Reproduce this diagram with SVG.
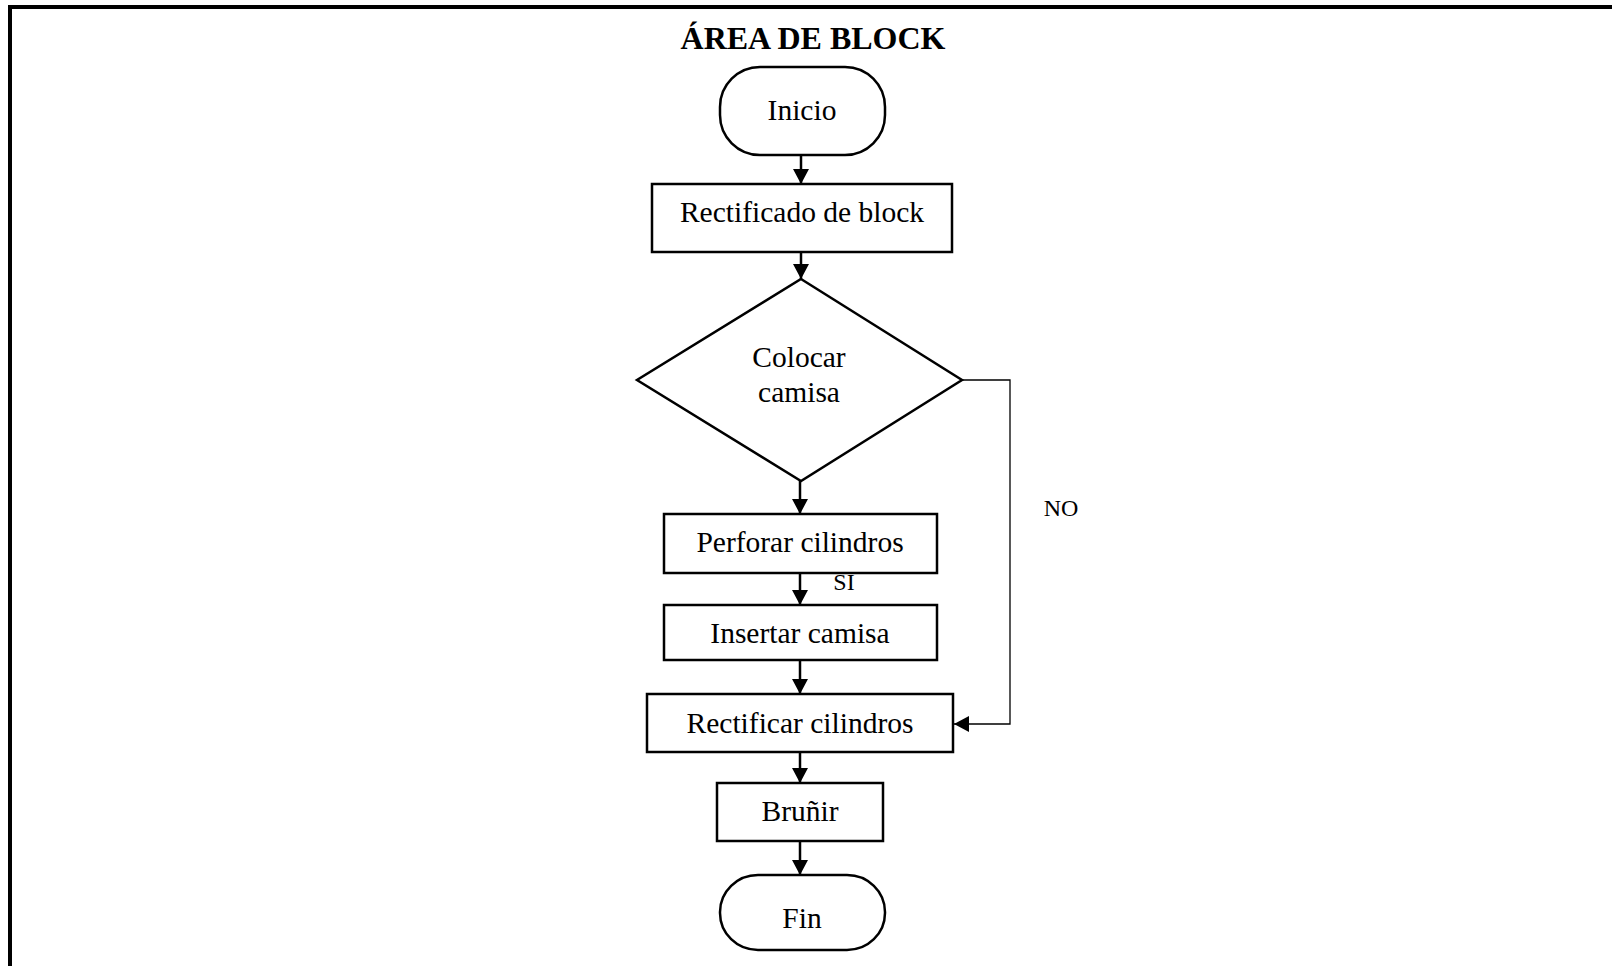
<svg xmlns="http://www.w3.org/2000/svg" width="1612" height="966" viewBox="0 0 1612 966">
  <style>
    .node { fill: #fff; stroke: #000; stroke-width: 2.5; }
    .lbl { font-family: "Liberation Serif", "Times New Roman", serif; font-size: 29.5px; fill: #000; text-anchor: middle; }
    .small { font-family: "Liberation Serif", "Times New Roman", serif; font-size: 24px; fill: #000; text-anchor: middle; }
    .title { font-family: "Liberation Serif", "Times New Roman", serif; font-size: 32px; font-weight: bold; fill: #000; text-anchor: middle; }
    .flow { fill: none; stroke: #000; stroke-width: 2.5; }
    .thin { fill: none; stroke: #000; stroke-width: 1.3; }
  </style>
  <defs>
    <marker id="arrow" viewBox="0 0 15 16" refX="15" refY="8" markerWidth="15" markerHeight="16" markerUnits="userSpaceOnUse" orient="auto">
      <path d="M0,0 L15,8 L0,16 Z" fill="#000"/>
    </marker>
  </defs>
  <rect width="1612" height="966" fill="#fff"/>
  <!-- frame: top and left edges only -->
  <path d="M10,966 V7 H1612" fill="none" stroke="#000" stroke-width="4"/>

  <text class="title" x="813" y="49">ÁREA DE BLOCK</text>

  <g id="connectors">
    <line class="flow" x1="801" y1="155" x2="801" y2="184" marker-end="url(#arrow)"/>
    <line class="flow" x1="801" y1="252" x2="801" y2="279" marker-end="url(#arrow)"/>
    <line class="flow" x1="800" y1="481" x2="800" y2="514" marker-end="url(#arrow)"/>
    <line class="flow" x1="800" y1="573" x2="800" y2="605" marker-end="url(#arrow)"/>
    <line class="flow" x1="800" y1="660" x2="800" y2="694" marker-end="url(#arrow)"/>
    <line class="flow" x1="800" y1="752" x2="800" y2="783" marker-end="url(#arrow)"/>
    <line class="flow" x1="800" y1="841" x2="800" y2="875" marker-end="url(#arrow)"/>
    <path class="thin" d="M962,380 H1010 V724 H954" marker-end="url(#arrow)"/>
    <text class="small" x="844" y="590">SI</text>
    <text class="small" x="1061" y="516">NO</text>
  </g>

  <g id="inicio">
    <rect class="node" x="720" y="67" width="165" height="88" rx="40" ry="40"/>
    <text class="lbl" x="802" y="120">Inicio</text>
  </g>
  <g id="rectificado-block">
    <rect class="node" x="652" y="184" width="300" height="68"/>
    <text class="lbl" x="802" y="222">Rectificado de block</text>
  </g>
  <g id="colocar-camisa">
    <polygon class="node" points="801,279 962,380 801,481 637,380"/>
    <text class="lbl" x="799" y="367">Colocar</text>
    <text class="lbl" x="799" y="402">camisa</text>
  </g>
  <g id="perforar">
    <rect class="node" x="664" y="514" width="273" height="59"/>
    <text class="lbl" x="800" y="552">Perforar cilindros</text>
  </g>
  <g id="insertar">
    <rect class="node" x="664" y="605" width="273" height="55"/>
    <text class="lbl" x="800" y="643">Insertar camisa</text>
  </g>
  <g id="rectificar-cilindros">
    <rect class="node" x="647" y="694" width="306" height="58"/>
    <text class="lbl" x="800" y="733">Rectificar cilindros</text>
  </g>
  <g id="brunir">
    <rect class="node" x="717" y="783" width="166" height="58"/>
    <text class="lbl" x="800" y="821">Bruñir</text>
  </g>
  <g id="fin">
    <rect class="node" x="720" y="875" width="165" height="75" rx="38" ry="37"/>
    <text class="lbl" x="802" y="928">Fin</text>
  </g>
</svg>
